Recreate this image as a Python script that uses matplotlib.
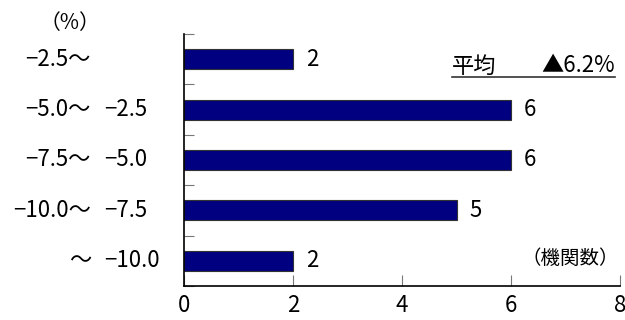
import matplotlib
matplotlib.use("Agg")
import matplotlib.pyplot as plt
import numpy as np
from matplotlib.transforms import blended_transform_factory

plt.rcParams['font.family'] = ['Noto Sans CJK JP', 'DejaVu Sans']

# data
left_labels = ["−2.5～", "−5.0～", "−7.5～", "−10.0～", "～"]
right_labels = ["", "−2.5", "−5.0", "−7.5", "−10.0"]
counts = [2, 6, 6, 5, 2]
xticks = [0, 2, 4, 6, 8]

fig = plt.figure(figsize=(6.25, 3.2), dpi=100)
ax = fig.add_axes([184/625, 34/320, 436/625, 252/320])

ypos = np.arange(len(counts))
ax.barh(ypos, counts, height=0.4, color="#000080", edgecolor="#333333", linewidth=0.8)
ax.set_ylim(4.5, -0.5)
ax.set_xlim(0, 8)

for y, v in zip(ypos, counts):
    ax.text(v + 0.24, y, str(v), va="center", ha="left", fontsize=16)

ax.spines["top"].set_visible(False)
ax.spines["right"].set_visible(False)
ax.spines["left"].set_linewidth(1.2)
ax.spines["bottom"].set_linewidth(1.2)
ax.set_yticks(np.arange(-0.5, 5, 1))
ax.set_yticklabels([])
ax.tick_params(axis="y", direction="in", length=7, width=0.8, color="#777777")
ax.set_xticks(xticks)
ax.set_xticklabels([str(t) for t in xticks], fontsize=16)
ax.tick_params(axis="x", direction="in", length=8, width=0.8, color="#777777", pad=6)

tr = blended_transform_factory(fig.transFigure, ax.transData)
for y, l, r in zip(ypos, left_labels, right_labels):
    ax.text(91/625, y, l, transform=tr, ha="right", va="center", fontsize=16)
    ax.text(104/625, y, r, transform=tr, ha="left", va="center", fontsize=16)

fig.text(70/625, 1 - 23/320, "（%）", ha="center", va="center", fontsize=15)
fig.text(452/625, 1 - 66/320, "平均", ha="left", va="center", fontsize=16)
fig.text(615/625, 1 - 66/320, "▲6.2%", ha="right", va="center", fontsize=16)
fig.add_artist(plt.Line2D([452/625, 615/625], [1 - 77/320, 1 - 77/320], color="#333333", linewidth=1.2))
fig.text(619/625, 1 - 258/320, "（機関数）", ha="right", va="center", fontsize=14)

fig.savefig("out.png", dpi=100)
